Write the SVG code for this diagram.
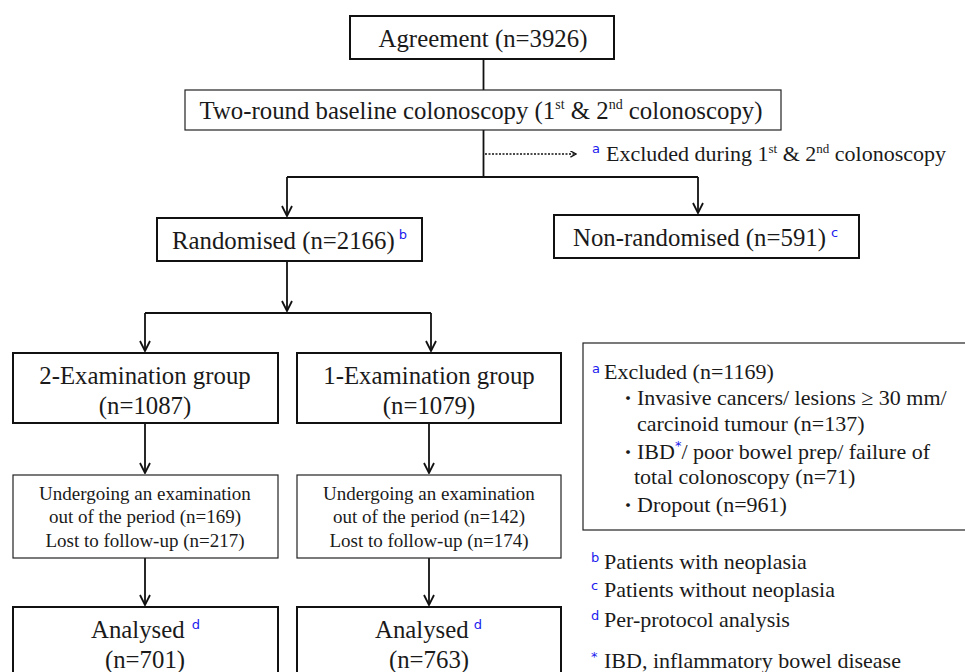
<svg xmlns="http://www.w3.org/2000/svg" width="965" height="672" viewBox="0 0 965 672">
<style>
text{font-family:"Liberation Serif","Times New Roman",serif;fill:#1a1a1a}
.b{font-size:24.8px}
.mid{text-anchor:middle}
.m{font-size:19px;text-anchor:middle}
.l{font-size:22px}
.s{font-family:"DejaVu Sans","Liberation Sans",sans-serif;fill:#2020ee;font-size:13px}
.blt{font-family:"Noto Sans CJK JP",sans-serif;font-size:18px}
.box{fill:#fff;stroke:#111;stroke-width:2}
.thin{fill:#fff;stroke:#222;stroke-width:1.2}
.c{fill:none;stroke:#111;stroke-width:1.8}
.d{fill:none;stroke:#111;stroke-width:1.6;stroke-dasharray:2 1.5}
</style>
<defs>
<marker id="ar" viewBox="0 0 10 10" refX="9" refY="5" markerWidth="7" markerHeight="7" markerUnits="userSpaceOnUse" orient="auto">
<path d="M1,0.5 L9,5 L1,9.5" fill="none" stroke="#111" stroke-width="1.8"/>
</marker>
<marker id="ar2" viewBox="0 0 12 12" refX="11" refY="6" markerWidth="12" markerHeight="12" markerUnits="userSpaceOnUse" orient="auto">
<path d="M1,1 L11,6 L1,11" fill="none" stroke="#111" stroke-width="1.8"/>
</marker>
</defs>
<rect width="965" height="672" fill="#fff"/>
<g id="connectors">
<path class="c" d="M483.5,59 V90"/>
<path class="c" d="M483.5,130 V177 M287,177 H698"/>
<path class="d" d="M485,154 H576" marker-end="url(#ar)"/>
<path class="c" d="M287,177 V216" marker-end="url(#ar2)"/>
<path class="c" d="M698,177 V213" marker-end="url(#ar2)"/>
<path class="c" d="M287,261 V311" marker-end="url(#ar2)"/>
<path class="c" d="M145,313 H431"/>
<path class="c" d="M145,313 V351" marker-end="url(#ar2)"/>
<path class="c" d="M431,313 V351" marker-end="url(#ar2)"/>
<path class="c" d="M145,423 V473" marker-end="url(#ar2)"/>
<path class="c" d="M429,423 V473" marker-end="url(#ar2)"/>
<path class="c" d="M145,558 V605" marker-end="url(#ar2)"/>
<path class="c" d="M429,558 V605" marker-end="url(#ar2)"/>
</g>
<g id="agreement">
<rect class="box" x="350" y="16" width="264" height="43"/>
<text class="b mid" x="483" y="47">Agreement (n=3926)</text>
</g>
<g id="baseline">
<rect class="thin" x="185" y="90" width="596" height="40"/>
<text class="b mid" x="481" y="119">Two-round baseline colonoscopy (1<tspan font-size="14" dy="-10">st</tspan><tspan dy="10"> &amp; 2</tspan><tspan font-size="14" dy="-10">nd</tspan><tspan dy="10"> colonoscopy)</tspan></text>
</g>
<g id="excluded-note">
<text class="s" x="592" y="153">a</text>
<text class="l" x="606" y="161">Excluded during 1<tspan font-size="13" dy="-8">st</tspan><tspan dy="8"> &amp; 2</tspan><tspan font-size="13" dy="-8">nd</tspan><tspan dy="8"> colonoscopy</tspan></text>
</g>
<g id="randomised">
<rect class="box" x="157" y="218" width="265" height="43"/>
<text class="b" x="172" y="249">Randomised (n=2166)<tspan class="s" dx="4" dy="-10">b</tspan></text>
</g>
<g id="nonrandomised">
<rect class="box" x="554" y="215" width="305" height="43"/>
<text class="b" x="573" y="246">Non-randomised (n=591)<tspan class="s" dx="5" dy="-9">c</tspan></text>
</g>
<g id="exam2">
<rect class="box" x="13" y="353" width="265" height="70"/>
<text class="b mid" x="145" y="384">2-Examination group</text>
<text class="b mid" x="145" y="414">(n=1087)</text>
</g>
<g id="exam1">
<rect class="box" x="297" y="353" width="264" height="70"/>
<text class="b mid" x="429" y="384">1-Examination group</text>
<text class="b mid" x="429" y="414">(n=1079)</text>
</g>
<g id="lost2">
<rect class="thin" x="13" y="475" width="265" height="83"/>
<text class="m" x="145" y="500">Undergoing an examination</text>
<text class="m" x="145" y="523">out of the period (n=169)</text>
<text class="m" x="145" y="547">Lost to follow-up (n=217)</text>
</g>
<g id="lost1">
<rect class="thin" x="297" y="475" width="264" height="83"/>
<text class="m" x="429" y="500">Undergoing an examination</text>
<text class="m" x="429" y="523">out of the period (n=142)</text>
<text class="m" x="429" y="547">Lost to follow-up (n=174)</text>
</g>
<g id="analysed2">
<rect class="box" x="13" y="607" width="265" height="90"/>
<text class="b" x="91" y="638">Analysed<tspan class="s" dx="7" dy="-9">d</tspan></text>
<text class="b mid" x="145" y="668">(n=701)</text>
</g>
<g id="analysed1">
<rect class="box" x="297" y="607" width="264" height="90"/>
<text class="b" x="375" y="638">Analysed<tspan class="s" dx="5" dy="-9">d</tspan></text>
<text class="b mid" x="429" y="668">(n=763)</text>
</g>
<g id="legend">
<rect class="thin" x="583" y="343" width="400" height="187"/>
<text class="s" x="592" y="373">a</text>
<text class="l" x="604" y="379">Excluded  (n=1169)</text>
<text class="l" x="619" y="405"><tspan class="blt">・</tspan>Invasive  cancers/  lesions ≥ 30 mm/</text>
<text class="l" x="637" y="431">carcinoid  tumour (n=137)</text>
<text class="l" x="619" y="459"><tspan class="blt">・</tspan>IBD<tspan class="s" font-size="12" dy="-9">*</tspan><tspan dy="9">/ poor bowel prep/  failure of</tspan></text>
<text class="l" x="634" y="484">total colonoscopy  (n=71)</text>
<text class="l" x="619" y="512"><tspan class="blt">・</tspan>Dropout (n=961)</text>
</g>
<g id="footnotes">
<text class="s" x="591" y="562">b</text>
<text class="l" x="604" y="569">Patients  with  neoplasia</text>
<text class="s" x="591" y="590">c</text>
<text class="l" x="604" y="597">Patients  without neoplasia</text>
<text class="s" x="591" y="620">d</text>
<text class="l" x="604" y="627">Per-protocol analysis</text>
<text class="s" x="591" y="661">*</text>
<text class="l" x="604" y="668">IBD,  inflammatory  bowel disease</text>
</g>
</svg>
